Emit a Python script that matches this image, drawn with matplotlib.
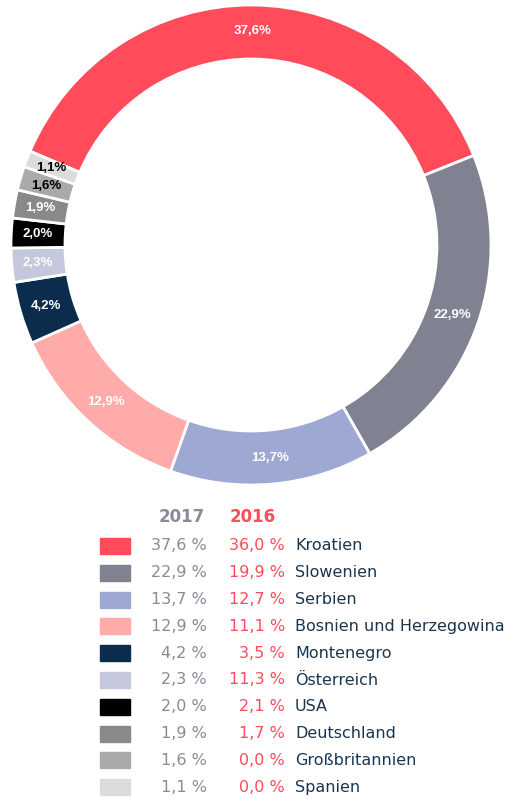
import matplotlib
matplotlib.use('Agg')
import matplotlib.pyplot as plt
import numpy as np

countries = ['Kroatien', 'Slowenien', 'Serbien', 'Bosnien und Herzegowina', 'Montenegro',
             'Österreich', 'USA', 'Deutschland', 'Großbritannien', 'Spanien']
share_2017 = [37.6, 22.9, 13.7, 12.9, 4.2, 2.3, 2.0, 1.9, 1.6, 1.1]
share_2016 = [36.0, 19.9, 12.7, 11.1, 3.5, 11.3, 2.1, 1.7, 0.0, 0.0]
colors = ['#FF4B5A', '#808292', '#9EA9D3', '#FFABAA', '#0B2C4D',
          '#C5C8DC', '#000000', '#898989', '#AAAAAA', '#DCDCDC']
label_colors = ['white'] * 8 + ['black', 'black']

W, H = 518, 799
fig = plt.figure(figsize=(W / 100, H / 100), dpi=100)

def fx(px):
    return px / W

def fy(py):
    return 1 - py / H

# donut
cx, cy, r = 251, 245, 240
ax = fig.add_axes([fx(cx - r), fy(cy + r), 2 * r / W, 2 * r / H])
wedges, _ = ax.pie(share_2017, colors=colors, startangle=157, counterclock=False,
                   radius=1, wedgeprops=dict(width=0.225, edgecolor='white', linewidth=2))
ax.set_xlim(-1, 1)
ax.set_ylim(-1, 1)
ax.set_aspect('equal')
ax.axis('off')

for w, v, lc in zip(wedges, share_2017, label_colors):
    ang = np.deg2rad((w.theta1 + w.theta2) / 2)
    rr = 0.89
    ax.text(rr * np.cos(ang), rr * np.sin(ang), f'{v:.1f}%'.replace('.', ','),
            ha='center', va='center', color=lc, fontsize=9.5, fontweight='bold',
            family='Liberation Sans')

# legend table
fig.text(fx(182), fy(517), '2017', color='#8A8A99', fontsize=12, fontweight='bold',
         ha='center', va='center')
fig.text(fx(253), fy(517), '2016', color='#FF4B5A', fontsize=12, fontweight='bold',
         ha='center', va='center')

row0, step = 546, 26.8
for i, (c, a, b, col) in enumerate(zip(countries, share_2017, share_2016, colors)):
    y = row0 + i * step
    fig.patches.append(plt.Rectangle((fx(100), fy(y + 8)), 30 / W, 16 / H, color=col,
                                     transform=fig.transFigure, figure=fig))
    fig.text(fx(207), fy(y), f'{a:.1f} %'.replace('.', ','), color='#8A8A99',
             fontsize=11.5, ha='right', va='center')
    fig.text(fx(285), fy(y), f'{b:.1f} %'.replace('.', ','), color='#FF4B5A',
             fontsize=11.5, ha='right', va='center')
    fig.text(fx(295), fy(y), c, color='#1B3550', fontsize=11.5, ha='left', va='center')

fig.savefig('out.png', dpi=100)
